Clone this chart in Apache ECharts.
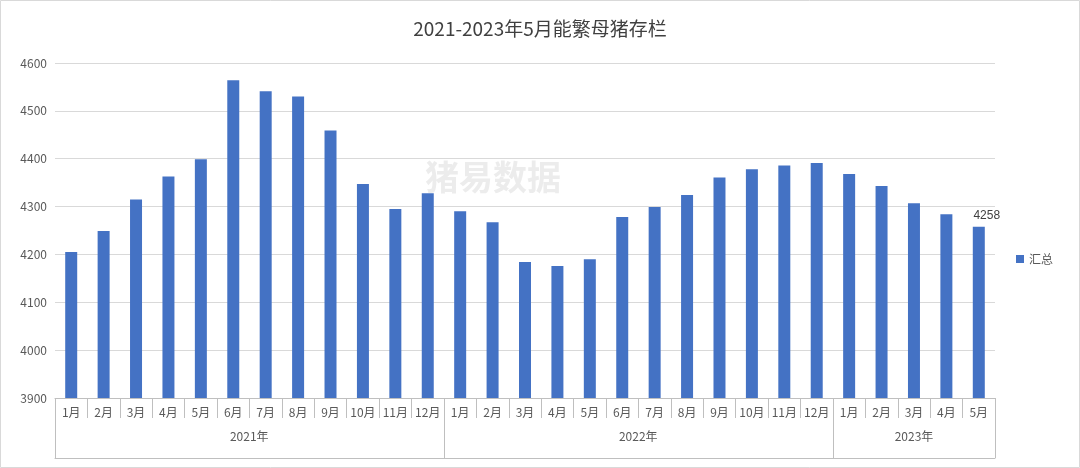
<!DOCTYPE html>
<html><head><meta charset="utf-8">
<script src="https://cdn.jsdelivr.net/npm/echarts@6/dist/echarts.min.js"></script>
<style>html,body{margin:0;padding:0;background:#fff}#c{width:1080px;height:468px}</style>
</head><body><div id="c"></div>
<script>
var months = ['1月','2月','3月','4月','5月','6月','7月','8月','9月','10月','11月','12月',
 '1月','2月','3月','4月','5月','6月','7月','8月','9月','10月','11月','12月',
 '1月','2月','3月','4月','5月'];
var values = [4205,4249,4315,4363,4399,4564,4541,4530,4459,4347,4295,4328,
 4290,4267,4184,4176,4190,4278,4299,4324,4361,4378,4386,4391,
 4368,4343,4307,4284,4258];
var years = ['2021年','2022年','2023年'];
var yearSpans = [12,12,5];
var seriesName = '汇总';

var yearCats = [];
var start = 0;
yearSpans.forEach(function(n, i){
  for (var k=0;k<n;k++) yearCats.push({value:'y'+(start+k)});
  var mid = start + Math.floor((n-1)/2);
  yearCats[mid] = {value: years[i], textStyle: (n%2===0)?{padding:[0,0,0,32]}:{}};
  start += n;
});
var bounds = [0]; start=0; yearSpans.forEach(function(n){start+=n;bounds.push(start);});

var chart = echarts.init(document.getElementById('c'));
chart.setOption({
  animation:false,
  title:{text:'2021-2023年5月能繁母猪存栏',left:'center',top:14,
    textStyle:{fontSize:19,fontWeight:'normal',color:'#404040',fontFamily:'Noto Sans CJK SC'}},
  graphic:[{type:'text',left:425,top:160,style:{text:'猪易数据',fontSize:34,fontWeight:'bold',fill:'rgba(200,200,200,0.35)',fontFamily:'Noto Sans CJK SC'}},
    {type:'rect',shape:{x:0.5,y:0.5,width:1079,height:467},style:{fill:'none',stroke:'#d9d9d9'}}],
  legend:{data:[seriesName],right:22,top:248,orient:'vertical',itemWidth:8,itemHeight:8,icon:'rect',
    textStyle:{fontSize:12,color:'#595959',fontFamily:'Noto Sans CJK SC'}},
  grid:{left:55,right:85,top:63,bottom:70},
  xAxis:[{type:'category',data:months,position:'bottom',
    axisLine:{show:true,lineStyle:{color:'#bfbfbf'}},
    axisTick:{show:true,length:20,interval:0,lineStyle:{color:'#bfbfbf'}},
    axisLabel:{color:'#595959',fontSize:12,margin:8,interval:0,fontFamily:'Noto Sans CJK SC'}},
   {type:'category',data:yearCats,position:'bottom',offset:20,
    axisLine:{show:false},
    axisTick:{show:true,length:40,lineStyle:{color:'#bfbfbf'},interval:function(i){return bounds.indexOf(i)>=0;}},
    axisLabel:{color:'#595959',fontSize:12,margin:12,interval:0,
      formatter:function(v){return v.charAt(0)==='y'?'':v;},fontFamily:'Noto Sans CJK SC'}},
   {type:'category',data:months,position:'bottom',offset:60,
    axisLine:{show:true,lineStyle:{color:'#bfbfbf'}},axisTick:{show:false},axisLabel:{show:false}}],
  yAxis:{type:'value',min:3900,max:4600,interval:100,
    axisLine:{show:false},axisTick:{show:false},
    axisLabel:{color:'#595959',fontSize:12,fontFamily:'Noto Sans CJK SC',formatter:function(v){return String(v);}},
    splitLine:{lineStyle:{color:'#d9d9d9'}}},
  series:[{name:seriesName,type:'bar',data:values.map(function(v,i){
      return i===values.length-1?{value:v,label:{show:true,position:'top',color:'#404040',fontSize:12,offset:[8,0]}}:v;}),
    barWidth:'37%',itemStyle:{color:'#4472C4'}}]
});
</script></body></html>
